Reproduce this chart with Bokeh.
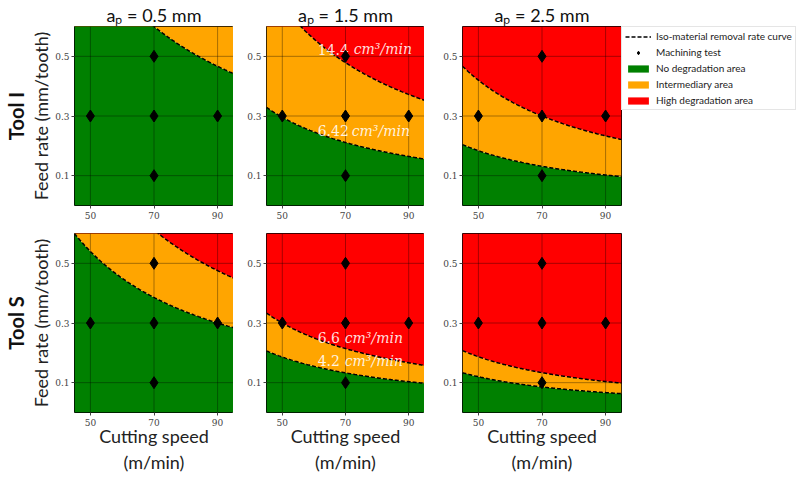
import numpy as np
from bokeh.plotting import figure
from bokeh.layouts import column, row
from bokeh.models import (LinearAxis, FixedTicker, Legend, LegendItem, Range1d,
                          ColumnDataSource)
from bokeh.core.properties import value
from bokeh.embed import file_html
from bokeh.resources import INLINE

# ---------------- data ----------------
tool_names = ["Tool I", "Tool S"]
depth_titles = ["aₚ = 0.5 mm", "aₚ = 1.5 mm", "aₚ = 2.5 mm"]

# iso-material-removal-rate curves, read as feed x speed products (mm/tooth * m/min)
tool_I_lower = [42.0, 14.8, 9.2]      # 6.42 cm3/min : no degradation / intermediary
tool_I_upper = [None, 33.5, 21.0]     # 14.4 cm3/min : intermediary / high degradation
tool_S_lower = [27.0, 9.3, 6.0]       # 4.2 cm3/min
tool_S_upper = [42.8, 15.0, 9.35]     # 6.6 cm3/min

test_speed = [50, 70, 70, 70, 90]     # m/min
test_feed = [0.3, 0.1, 0.3, 0.5, 0.3]  # mm/tooth

speed_ticks = [50, 70, 90]
feed_ticks = [0.1, 0.3, 0.5]
speed_range = (45, 95)
feed_range = (0.0, 0.6)

label_I_numbers = ["14.4", "6.42"]
label_S_numbers = ["6.6", "4.2"]
label_unit = "cm³/min"
label_I_feed = [0.523, 0.251]
label_S_feed = [0.251, 0.174]
label_speed = 61.2

# ---------------- styling ----------------
GREEN, ORANGE, RED = "#008000", "#FFA500", "#FF0000"
SANS = "Lato"
SERIF = "DejaVu Serif"

left_b = [73, 33, 38]
frame_w = [159, 158, 159]
right_b = [0, 0, 179]
top_b = [24, 0]
frame_h = [179, 179]
bottom_b = [28, 67]

vc = np.linspace(speed_range[0], speed_range[1], 201)

lowers = [tool_I_lower, tool_S_lower]
uppers = [tool_I_upper, tool_S_upper]
label_numbers = [label_I_numbers, label_S_numbers]
label_feeds = [label_I_feed, label_S_feed]
label_offsets = [[36, 34], [27, 27]]

rows = []
for r in range(2):
    figs = []
    for c in range(3):
        p = figure(frame_width=frame_w[c], frame_height=frame_h[r],
                   min_border_left=left_b[c], min_border_right=right_b[c],
                   min_border_top=top_b[r], min_border_bottom=bottom_b[r],
                   x_range=Range1d(*speed_range), y_range=Range1d(*feed_range),
                   output_backend="svg", toolbar_location=None,
                   title=depth_titles[c] if r == 0 else None)
        p.background_fill_color = "white"
        p.border_fill_color = "white"
        p.outline_line_color = "black"
        p.outline_line_width = 1
        p.xgrid.grid_line_color = None
        p.ygrid.grid_line_color = None
        if r == 0:
            p.title.align = "center"
            p.title.text_font = SANS
            p.title.text_font_size = "18px"
            p.title.text_font_style = "normal"
            p.title.text_color = "#111111"
            p.title.standoff = 2

        lo_c = lowers[r][c]
        up_c = uppers[r][c]
        lo = lo_c / vc
        top = np.full_like(vc, feed_range[1])
        up = up_c / vc if up_c is not None else top
        src = ColumnDataSource(dict(x=vc, zero=np.zeros_like(vc), lo=lo, up=up, top=top))
        g = p.varea(x="x", y1="zero", y2="lo", source=src, fill_color=GREEN)
        o = p.varea(x="x", y1="lo", y2="up", source=src, fill_color=ORANGE)
        rr = p.varea(x="x", y1="up", y2="top", source=src, fill_color=RED)

        # grid lines over the coloured areas
        gx = [[t, t] for t in speed_ticks] + [list(speed_range) for _ in feed_ticks]
        gy = [list(feed_range) for _ in speed_ticks] + [[t, t] for t in feed_ticks]
        p.multi_line(xs=gx, ys=gy, line_color="black", line_alpha=0.35, line_width=1)

        ln = p.line(vc, lo, line_color="black", line_dash="4 2", line_width=1.5)
        if up_c is not None:
            p.line(vc, up, line_color="black", line_dash="4 2", line_width=1.5)

        if c == 1:
            for num, fy, off in zip(label_numbers[r], label_feeds[r], label_offsets[r]):
                p.text(x=[label_speed], y=[fy], text=[num], text_font=value(SERIF),
                       text_font_size="14px", text_color="white", text_alpha=0.88,
                       text_baseline="middle", text_align="left")
                p.text(x=[label_speed], y=[fy], text=[label_unit], text_font=value(SERIF),
                       text_font_size="14px", text_font_style="italic", text_color="white",
                       text_alpha=0.88, text_baseline="middle", text_align="left",
                       x_offset=off)

        sc = p.scatter(test_speed, test_feed, marker="diamond", size=12,
                       fill_color="black", line_color="black")

        # axes
        for ax in (p.xaxis[0], p.yaxis[0]):
            ax.axis_line_color = None
            ax.major_tick_line_color = "#444444"
            ax.major_tick_out = 3
            ax.major_tick_in = 0
            ax.minor_tick_line_color = None
            ax.major_label_text_font = SERIF
            ax.major_label_text_font_size = "9px"
            ax.major_label_text_color = "#444444"
            ax.major_label_standoff = 3
        p.yaxis[0].major_label_standoff = 2
        p.xaxis[0].ticker = FixedTicker(ticks=speed_ticks)
        p.yaxis[0].ticker = FixedTicker(ticks=feed_ticks)

        if r == 1:
            p.xaxis[0].axis_label = "Cutting speed\n(m/min)"
            p.xaxis[0].axis_label_text_font = SANS
            p.xaxis[0].axis_label_text_font_size = "18px"
            p.xaxis[0].axis_label_text_font_style = "normal"
            p.xaxis[0].axis_label_text_color = "#222222"
            p.xaxis[0].axis_label_standoff = -4
        if c == 0:
            p.yaxis[0].axis_label = "Feed rate (mm/tooth)"
            p.yaxis[0].axis_label_text_font = SANS
            p.yaxis[0].axis_label_text_font_size = "18px"
            p.yaxis[0].axis_label_text_font_style = "normal"
            p.yaxis[0].axis_label_text_color = "#222222"
            p.yaxis[0].axis_label_standoff = 0
            tool_axis = LinearAxis(ticker=FixedTicker(ticks=[]), axis_label=tool_names[r],
                                   axis_line_color=None, major_tick_line_color=None,
                                   minor_tick_line_color=None,
                                   major_tick_out=0, major_label_standoff=0,
                                   major_label_text_font_size="0px",
                                   axis_label_text_font=SANS,
                                   axis_label_text_font_size="20px",
                                   axis_label_text_font_style="bold",
                                   axis_label_text_color="#111111",
                                   axis_label_standoff=0)
            p.add_layout(tool_axis, "left")

        if r == 0 and c == 2:
            legend = Legend(items=[
                LegendItem(label="Iso-material removal rate curve", renderers=[ln]),
                LegendItem(label="Machining test", renderers=[sc]),
                LegendItem(label="No degradation area", renderers=[g]),
                LegendItem(label="Intermediary area", renderers=[o]),
                LegendItem(label="High degradation area", renderers=[rr]),
            ], location="top_left")
            legend.label_text_font = SANS
            legend.label_text_font_size = "10px"
            legend.label_text_color = "#222222"
            legend.glyph_width = 26
            legend.glyph_height = 9
            legend.label_height = 9
            legend.spacing = 4
            legend.padding = 3
            legend.margin = 0
            legend.label_standoff = 5
            legend.border_line_color = "#cccccc"
            legend.background_fill_color = "white"
            legend.background_fill_alpha = 1
            p.add_layout(legend, "right")
        figs.append(p)
    rows.append(row(*figs, spacing=0))

layout = column(*rows, spacing=0)
open("out.html", "w").write(file_html(layout, INLINE))
